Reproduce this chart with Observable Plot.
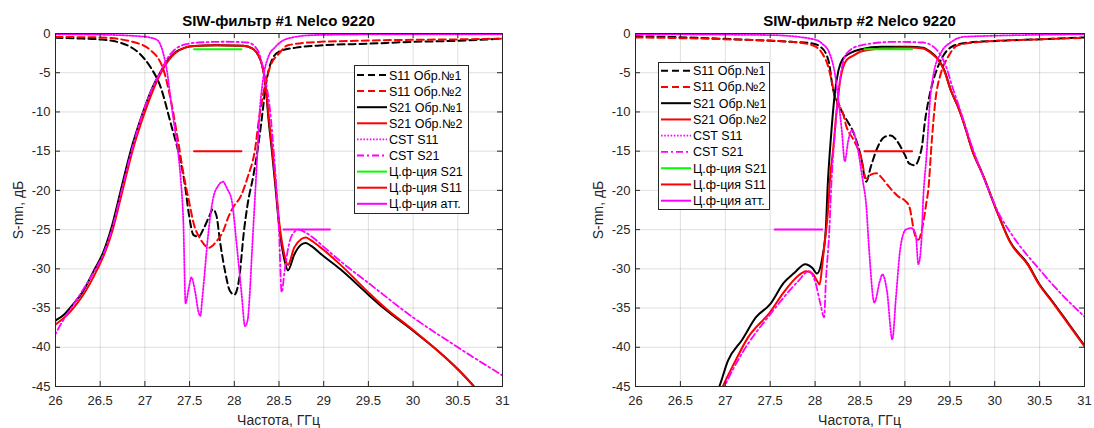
<!DOCTYPE html>
<html><head><meta charset="utf-8">
<script src="https://cdn.jsdelivr.net/npm/d3@7"></script>
<script src="https://cdn.jsdelivr.net/npm/@observablehq/plot@0.6"></script>
<style>
body{margin:0;background:#fff;}
#wrap{position:relative;width:1094px;height:428px;font-family:"Liberation Sans",Arial,Helvetica,sans-serif;color:#262626;overflow:hidden;background:#fff}
.panel{position:absolute;top:0;width:547px;height:428px}
.title{position:absolute;top:13px;font-weight:bold;font-size:15px;color:#000;transform:translateX(-50%);white-space:nowrap;line-height:16px}
.xlab{position:absolute;top:412px;font-size:14px;transform:translateX(-50%);white-space:nowrap;line-height:16px}
.ylab{position:absolute;font-size:14px;transform:translate(-50%,-50%) rotate(-90deg);white-space:nowrap;line-height:16px}
.leg{position:absolute}
</style>
</head><body>
<div id="wrap"></div>
<script>
// ---------- tick labels ----------
const xTicks = [26, 26.5, 27, 27.5, 28, 28.5, 29, 29.5, 30, 30.5, 31];
const yTicks = [0, -5, -10, -15, -20, -25, -30, -35, -40, -45];
const titles = ["SIW-фильтр #1 Nelco 9220", "SIW-фильтр #2 Nelco 9220"];
const xLabel = "Частота, ГГц";
const yLabel = "S-mn, дБ";
const seriesNames = ["S11 Обр.№1", "S11 Обр.№2", "S21 Обр.№1", "S21 Обр.№2", "CST S11", "CST S21", "Ц.ф-ция S21", "Ц.ф-ция S11", "Ц.ф-ция атт."];

// ---------- filter #1 data: [frequency GHz, dB] ----------
const p1S11n1 = [[26.0,-0.55],[26.3,-0.65],[26.5,-0.76],[26.75,-1.27],[26.94,-2.55],[27.06,-4.25],[27.175,-6.8],[27.29,-11.5],[27.37,-14.9],[27.45,-19.5],[27.49,-22.9],[27.545,-25.7],[27.6,-25.9],[27.66,-24.8],[27.72,-23.3],[27.76,-22.4],[27.8,-23.2],[27.84,-26.5],[27.9,-30.5],[27.95,-32.8],[28.0,-33.3],[28.05,-31.6],[28.11,-25.0],[28.15,-21.7],[28.21,-18.3],[28.26,-14.9],[28.31,-10.6],[28.35,-6.8],[28.42,-3.4],[28.5,-2.3],[28.69,-1.8],[29.0,-1.5],[29.5,-1.3],[30.0,-1.06],[30.5,-0.93],[31.0,-0.64]];
const p1S11n2 = [[26.0,-0.45],[26.5,-0.5],[26.86,-1.06],[27.06,-2.1],[27.21,-4.7],[27.29,-8.5],[27.37,-13.6],[27.43,-17.8],[27.49,-21.2],[27.55,-24.4],[27.62,-26.2],[27.72,-27.3],[27.8,-26.5],[27.875,-25.2],[27.93,-23.5],[27.99,-22.1],[28.07,-20.8],[28.15,-18.3],[28.23,-14.9],[28.28,-10.6],[28.34,-6.8],[28.4,-4.25],[28.5,-2.55],[28.6,-1.5],[28.89,-1.1],[29.5,-0.9],[30.0,-0.8],[30.5,-0.75],[31.0,-0.65]];
const p1S21n1 = [[25.95,-37.0],[26.0,-36.6],[26.1,-35.8],[26.16,-35],[26.3,-33],[26.44,-30],[26.53,-28],[26.62,-25],[26.73,-20],[26.84,-15],[26.98,-10],[27.08,-7],[27.17,-5],[27.25,-3.5],[27.33,-2.5],[27.45,-1.8],[27.55,-1.6],[27.8,-1.5],[28.1,-1.55],[28.2,-1.9],[28.26,-2.6],[28.31,-4.0],[28.35,-6.5],[28.38,-10.6],[28.42,-14.9],[28.46,-19.5],[28.5,-24.4],[28.56,-28.8],[28.6,-30.2],[28.67,-28.2],[28.75,-26.9],[28.8,-26.7],[28.85,-27.0],[29.0,-28.4],[29.18,-30],[29.5,-33.3],[29.67,-35],[30.0,-37.9],[30.23,-40],[30.5,-42.8],[30.68,-45],[30.75,-46]];
const p1S21n2 = [[25.95,-37.6],[26.0,-37.1],[26.1,-36.2],[26.2,-35],[26.3,-33.5],[26.47,-30],[26.55,-28],[26.64,-25],[26.75,-20],[26.86,-15],[27.0,-10],[27.1,-7],[27.18,-5],[27.26,-3.5],[27.34,-2.5],[27.45,-1.8],[27.55,-1.6],[27.8,-1.5],[28.1,-1.55],[28.2,-1.9],[28.26,-2.6],[28.31,-4.0],[28.35,-6.5],[28.385,-10.6],[28.425,-14.9],[28.465,-19.5],[28.5,-23.8],[28.56,-28.2],[28.6,-29.5],[28.67,-27.3],[28.75,-26.2],[28.8,-26.0],[28.85,-26.3],[29.0,-27.6],[29.18,-29.4],[29.5,-33.0],[29.67,-34.8],[30.0,-37.8],[30.23,-40],[30.5,-42.8],[30.68,-45],[30.75,-46]];
const p1CstS11 = [[26.0,-0.1],[26.5,-0.15],[26.94,-0.35],[27.05,-0.5],[27.14,-0.85],[27.2,-2.3],[27.25,-5],[27.29,-8.5],[27.33,-11.8],[27.37,-15],[27.4,-18.5],[27.43,-24],[27.455,-34.4],[27.49,-32.5],[27.52,-31.1],[27.56,-32.8],[27.6,-35.5],[27.62,-36.0],[27.64,-34],[27.66,-31.6],[27.7,-26.5],[27.76,-21.2],[27.82,-19.4],[27.875,-18.9],[27.92,-19.8],[27.97,-21.2],[28.03,-27.3],[28.08,-33],[28.12,-37.3],[28.15,-36.5],[28.17,-33.7],[28.2,-27.3],[28.25,-17],[28.28,-10.6],[28.32,-6],[28.38,-3],[28.46,-1.7],[28.6,-0.64],[28.89,-0.2],[29.5,-0.12],[31.0,-0.1]];
const p1CstS21 = [[25.95,-39.5],[26.0,-38.3],[26.1,-36.3],[26.2,-34.6],[26.3,-32.8],[26.45,-30],[26.54,-28],[26.63,-25],[26.74,-20],[26.85,-15],[26.98,-10],[27.08,-7],[27.17,-5],[27.25,-3.2],[27.33,-2.1],[27.45,-1.4],[27.6,-1.15],[27.9,-1.05],[28.15,-1.15],[28.26,-2.1],[28.34,-5.5],[28.4,-9.8],[28.44,-14.9],[28.48,-21.2],[28.5,-25.2],[28.53,-33],[28.56,-30.5],[28.6,-27.5],[28.65,-25.6],[28.72,-25.0],[28.8,-25.4],[28.9,-26.2],[29.0,-27.2],[29.25,-29.6],[29.5,-31.8],[30.0,-36.2],[30.5,-40],[31.0,-43.6]];
const p1SpecS21 = [[27.55,-2],[28.08,-2]];
const p1SpecS11 = [[27.55,-15],[28.08,-15]];
const p1SpecAtt = [[28.55,-25],[29.07,-25]];

// ---------- filter #2 data ----------
const p2S11n1 = [[26,-0.35],[26.57,-0.5],[27.15,-0.76],[27.73,-1.06],[27.97,-1.27],[28.06,-1.7],[28.12,-2.55],[28.16,-4],[28.19,-6.5],[28.22,-8.0],[28.26,-8.9],[28.3,-10],[28.35,-11],[28.43,-12.7],[28.51,-15.7],[28.57,-18.9],[28.62,-17],[28.7,-14.4],[28.77,-13.2],[28.84,-13],[28.93,-14],[29.0,-15.5],[29.05,-16.6],[29.11,-16.8],[29.16,-15.8],[29.19,-14.4],[29.22,-11.5],[29.28,-7.6],[29.34,-5.1],[29.4,-3.4],[29.52,-1.7],[29.67,-1.2],[30.06,-0.93],[30.45,-0.76],[31,-0.5]];
const p2S11n2 = [[26,-0.5],[26.96,-0.72],[27.73,-1.06],[27.97,-1.5],[28.08,-2.55],[28.14,-4],[28.18,-5.8],[28.22,-8.0],[28.26,-9.2],[28.3,-9.8],[28.35,-11.9],[28.43,-13.6],[28.51,-15.7],[28.57,-18.5],[28.62,-18.0],[28.68,-17.8],[28.75,-18.5],[28.82,-19.5],[28.93,-20.8],[29.0,-21.3],[29.05,-22.1],[29.11,-25.6],[29.15,-26.3],[29.2,-24.4],[29.24,-21.5],[29.26,-20],[29.3,-13.6],[29.34,-8.5],[29.4,-5.1],[29.48,-3],[29.59,-1.5],[29.86,-1.06],[30.45,-0.76],[31,-0.55]];
const p2S21n1 = [[26.85,-47],[26.93,-45.1],[27.03,-41.7],[27.19,-39],[27.34,-36.2],[27.5,-34.5],[27.65,-31.8],[27.77,-30.5],[27.89,-29.4],[27.97,-29.9],[28.02,-30.6],[28.08,-28.6],[28.12,-24.8],[28.14,-19.5],[28.18,-12.7],[28.22,-7.6],[28.26,-4.7],[28.31,-3.2],[28.39,-2.5],[28.51,-2.0],[28.74,-1.7],[29.05,-1.7],[29.2,-1.8],[29.28,-2.3],[29.38,-3.4],[29.44,-4.7],[29.51,-7.2],[29.59,-9.3],[29.67,-11.9],[29.75,-14.9],[29.86,-17.8],[30.04,-23.1],[30.17,-26.5],[30.37,-29.4],[30.5,-32],[30.64,-34.1],[30.83,-37.1],[31,-39.8]];
const p2S21n2 = [[26.9,-47],[26.98,-44.8],[27.1,-42],[27.25,-38.8],[27.5,-35.5],[27.65,-33],[27.8,-31],[27.9,-30.3],[27.97,-30.6],[28.02,-31.5],[28.05,-32],[28.08,-29.5],[28.1,-27.3],[28.14,-23.1],[28.17,-18],[28.2,-14.9],[28.24,-9.8],[28.28,-5.9],[28.35,-3.4],[28.43,-2.8],[28.51,-2.3],[28.74,-1.9],[29.05,-1.8],[29.2,-1.9],[29.28,-2.4],[29.38,-3.5],[29.44,-4.8],[29.51,-7.2],[29.59,-9.3],[29.67,-11.9],[29.75,-14.9],[29.86,-17.8],[30.04,-23.1],[30.17,-26.6],[30.37,-29.5],[30.5,-32.1],[30.64,-34.2],[30.83,-37.2],[31,-39.9]];
const p2CstS11 = [[26,-0.1],[27.5,-0.2],[27.97,-0.7],[28.08,-1.3],[28.16,-2.5],[28.22,-5.1],[28.26,-8.5],[28.3,-12.7],[28.33,-16.3],[28.37,-13.6],[28.41,-12.3],[28.47,-14.4],[28.53,-18.7],[28.57,-22],[28.6,-27.3],[28.66,-34.3],[28.72,-31.6],[28.75,-30.7],[28.8,-32.8],[28.86,-39],[28.9,-33.7],[28.95,-27.3],[29.01,-25],[29.07,-24.8],[29.12,-25.6],[29.15,-29.4],[29.19,-25.2],[29.2,-22.1],[29.24,-15.7],[29.28,-8.5],[29.32,-5.1],[29.4,-2.5],[29.52,-1.06],[29.67,-0.4],[31,-0.1]];
const p2CstS21 = [[26.9,-47.5],[26.98,-45.3],[27.19,-40.7],[27.5,-35.8],[27.81,-31.6],[27.93,-30.3],[28.0,-31.6],[28.06,-34.5],[28.1,-36.2],[28.12,-31.6],[28.16,-24.8],[28.18,-19.5],[28.22,-12.7],[28.26,-7.6],[28.3,-4.25],[28.35,-2.55],[28.51,-1.5],[28.9,-1.06],[29.2,-1.15],[29.32,-1.7],[29.4,-2.8],[29.46,-4.25],[29.52,-6.5],[29.6,-9.2],[29.75,-14.5],[29.9,-19],[30.04,-22.8],[30.2,-25.8],[30.5,-30.1],[30.75,-33.3],[31,-36.1]];
const p2SpecS21 = [[28.55,-2],[29.08,-2]];
const p2SpecS11 = [[28.55,-15],[29.08,-15]];
const p2SpecAtt = [[27.55,-25],[28.08,-25]];

// ---------- styles (same order as series names) ----------
const seriesStyles = [
  {stroke:"#000000", dash:"7,4", w:2},
  {stroke:"#ff0000", dash:"7,4", w:2},
  {stroke:"#000000", dash:null, w:2},
  {stroke:"#ff0000", dash:null, w:2},
  {stroke:"#ff00ff", dash:"1.6,1.6", w:1.8},
  {stroke:"#ff00ff", dash:"7,3,2,3", w:1.8},
  {stroke:"#00ff00", dash:null, w:2},
  {stroke:"#ff0000", dash:null, w:2},
  {stroke:"#ff00ff", dash:null, w:2}
];

const panels = [
  {left:0, ml:55, mr:45, title:titles[0],
   series:[p1S11n1,p1S11n2,p1S21n1,p1S21n2,p1CstS11,p1CstS21,p1SpecS21,p1SpecS11,p1SpecAtt],
   legend:{x:354, y:65, w:115, h:149, y0:75, dy:16.1}},
  {left:547, ml:88, mr:10, title:titles[1],
   series:[p2S11n1,p2S11n2,p2S21n1,p2S21n2,p2CstS11,p2CstS21,p2SpecS21,p2SpecS11,p2SpecAtt],
   legend:{x:658, y:62, w:112, h:148, y0:70.7, dy:16.25}}
];

const W = 547, H = 428, MT = 33, MB = 42;
const FONT = '"Liberation Sans", Arial, Helvetica, sans-serif';
const wrap = document.getElementById("wrap");

panels.forEach(p => {
  const innerW = W - p.ml - p.mr, innerH = H - MT - MB;
  const tick = 5;
  const chart = Plot.plot({
    width: W, height: H,
    marginLeft: p.ml, marginRight: p.mr, marginTop: MT, marginBottom: MB,
    x: {domain: [26, 31]},
    y: {domain: [-45, 0]},
    style: {fontFamily: FONT, fontSize: "13px", color: "#262626", background: "transparent", overflow: "visible"},
    marks: [
      Plot.gridX(xTicks, {stroke: "#262626", strokeOpacity: 0.15, strokeWidth: 1}),
      Plot.gridY(yTicks, {stroke: "#262626", strokeOpacity: 0.15, strokeWidth: 1}),
      ...p.series.map((data, i) => Plot.line(data, {
        x: d => d[0], y: d => d[1],
        stroke: seriesStyles[i].stroke,
        strokeWidth: seriesStyles[i].w,
        strokeDasharray: seriesStyles[i].dash,
        strokeLinejoin: "round",
        curve: "monotone-x",
        clip: true
      })),
      Plot.ruleX(xTicks, {x: d => d, stroke: "#262626", insetTop: innerH - tick}),
      Plot.ruleX(xTicks, {x: d => d, stroke: "#262626", insetBottom: innerH - tick}),
      Plot.ruleY(yTicks, {y: d => d, stroke: "#262626", insetRight: innerW - tick}),
      Plot.ruleY(yTicks, {y: d => d, stroke: "#262626", insetLeft: innerW - tick}),
      Plot.frame({stroke: "#262626", strokeWidth: 1}),
      Plot.axisX(xTicks, {tickSize: 0, tickPadding: 9, tickFormat: d => String(d), label: null, fill: "#262626", fontSize: 13}),
      Plot.axisY(yTicks, {tickSize: 0, tickPadding: 5, tickFormat: d => String(d), label: null, fill: "#262626", fontSize: 13})
    ]
  });
  const div = document.createElement("div");
  div.className = "panel";
  div.style.left = p.left + "px";
  div.appendChild(chart);
  wrap.appendChild(div);

  const cx = p.left + p.ml + innerW / 2;
  const t = document.createElement("div");
  t.className = "title"; t.textContent = p.title; t.style.left = cx + "px";
  wrap.appendChild(t);
  const xl = document.createElement("div");
  xl.className = "xlab"; xl.textContent = xLabel; xl.style.left = cx + "px";
  wrap.appendChild(xl);
  const yl = document.createElement("div");
  yl.className = "ylab"; yl.textContent = yLabel;
  yl.style.left = (p.left + p.ml - 37) + "px";
  yl.style.top = (MT + innerH / 2) + "px";
  wrap.appendChild(yl);

  // legend
  const L = p.legend;
  const svg = d3.create("svg").attr("class", "leg")
    .attr("width", L.w + 2).attr("height", L.h + 2)
    .style("left", (L.x - 1) + "px").style("top", (L.y - 1) + "px")
    .style("position", "absolute");
  svg.append("rect").attr("x", 1.5).attr("y", 1.5).attr("width", L.w - 1).attr("height", L.h - 1)
    .attr("fill", "#fff").attr("stroke", "#262626").attr("stroke-width", 1);
  seriesNames.forEach((name, i) => {
    const yy = L.y0 - L.y + 1 + i * L.dy;
    const s = seriesStyles[i];
    svg.append("line").attr("x1", 4).attr("x2", 34).attr("y1", yy).attr("y2", yy)
      .attr("stroke", s.stroke).attr("stroke-width", s.w)
      .attr("stroke-dasharray", s.dash);
    svg.append("text").attr("x", 36).attr("y", yy).attr("dy", "0.36em")
      .attr("font-family", FONT).attr("font-size", 12.5).attr("fill", "#000").text(name);
  });
  wrap.appendChild(svg.node());
});
</script>
</body></html>
